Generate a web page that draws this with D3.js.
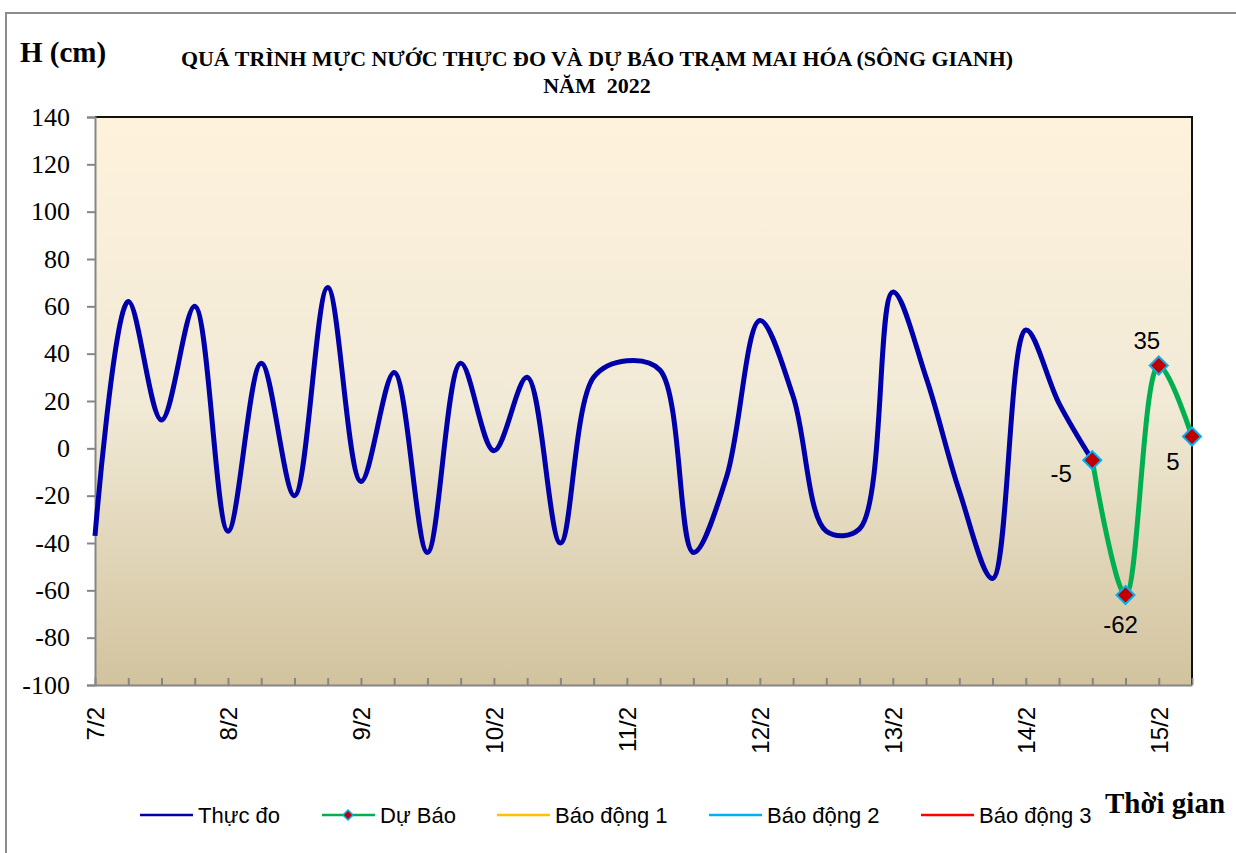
<!DOCTYPE html>
<html><head><meta charset="utf-8">
<script src="https://cdn.jsdelivr.net/npm/d3@7"></script>
<style>body{margin:0;background:#fff}svg{display:block}</style>
</head><body>
<svg id="chart" width="1236" height="853"></svg>
<script>
// ---- data ----
const categories = [
 "7/2 00h","7/2 06h","7/2 12h","7/2 18h",
 "8/2 00h","8/2 06h","8/2 12h","8/2 18h",
 "9/2 00h","9/2 06h","9/2 12h","9/2 18h",
 "10/2 00h","10/2 06h","10/2 12h","10/2 18h",
 "11/2 00h","11/2 06h","11/2 12h","11/2 18h",
 "12/2 00h","12/2 06h","12/2 12h","12/2 18h",
 "13/2 00h","13/2 06h","13/2 12h","13/2 18h",
 "14/2 00h","14/2 06h","14/2 12h","14/2 18h",
 "15/2 00h","15/2 06h"];
const tickLabels = ["7/2","8/2","9/2","10/2","11/2","12/2","13/2","14/2","15/2"];
const thucDo = [-37,62,12,60,-35,36,-20,68,-14,32,-44,36,-1,30,-40,30,37,33,-44,-12,54,22,-35,-34,66,30,-18,-55,50,19,-5];
const duBao = [-5,-62,35,5];          // starts at categories index 30
const duBaoStart = 30;
const yTicks = [-100,-80,-60,-40,-20,0,20,40,60,80,100,120,140];
const legendNames = ["Thực đo","Dự Báo","Báo động 1","Báo động 2","Báo động 3"];
const legendColors = ["#0000AA","#00B050","#FFC000","#00B0F0","#FF0000"];

// ---- layout ----
const svg = d3.select("#chart");
const L = 95, R = 1192, T = 117, B = 685;

const x = d3.scalePoint().domain(categories).range([L, R]).padding(0);
const y = d3.scaleLinear().domain([-100, 140]).range([B, T]);

// outer border
svg.append("rect").attr("x",6).attr("y",13).attr("width",1300).attr("height",900)
  .attr("fill","#fff").attr("stroke","#8c8c8c").attr("stroke-width",2);

// gradient background
const defs = svg.append("defs");
const g = defs.append("linearGradient").attr("id","bg").attr("x1",0).attr("y1",0).attr("x2",0).attr("y2",1);
g.append("stop").attr("offset","0%").attr("stop-color","#FEF2DC");
g.append("stop").attr("offset","50%").attr("stop-color","#F1EAD6");
g.append("stop").attr("offset","100%").attr("stop-color","#D2C39E");
svg.append("rect").attr("x",L).attr("y",T).attr("width",R-L).attr("height",B-T).attr("fill","url(#bg)");

// top/right border
svg.append("path").attr("d",`M${L},${T}H${R}V${B}`).attr("fill","none").attr("stroke","#111").attr("stroke-width",2);

// y axis
const yAxis = svg.append("g").attr("transform",`translate(${L},0)`)
  .call(d3.axisLeft(y).tickValues(yTicks).tickSize(8).tickPadding(17).tickFormat(d=>String(d)));
yAxis.select(".domain").attr("stroke","#868686").attr("stroke-width",2);
yAxis.selectAll(".tick line").attr("stroke","#868686").attr("stroke-width",2);
yAxis.selectAll(".tick text").attr("font-family","'Liberation Serif','Times New Roman',serif")
  .attr("font-size",26).attr("fill","#000");

// x axis
const xAxis = svg.append("g").attr("transform",`translate(0,${B})`)
  .call(d3.axisBottom(x).tickSize(-7).tickSizeOuter(0)
    .tickFormat((d,i)=> i%4===0 ? tickLabels[i/4] : ""));
xAxis.select(".domain").attr("stroke","#868686").attr("stroke-width",2);
xAxis.selectAll(".tick line").attr("stroke","#868686").attr("stroke-width",2);
xAxis.selectAll(".tick text")
  .attr("font-family","'Liberation Sans',Arial,sans-serif").attr("font-size",24).attr("fill","#000")
  .attr("transform","rotate(-90)").attr("text-anchor","end")
  .attr("x",-22).attr("y",0).attr("dy","0.36em");

// lines
const line = d3.line().x(d=>x(d.c)).y(d=>y(d.v)).curve(d3.curveCatmullRom.alpha(0.5));
const actual = thucDo.map((v,i)=>({c:categories[i],v}));
const fc = duBao.map((v,i)=>({c:categories[duBaoStart+i],v}));

svg.append("path").datum(actual).attr("d",line).attr("fill","none")
  .attr("stroke",legendColors[0]).attr("stroke-width",5).attr("stroke-linejoin","round");
svg.append("path").datum(fc).attr("d",line).attr("fill","none")
  .attr("stroke",legendColors[1]).attr("stroke-width",5).attr("stroke-linejoin","round");

const diamond = s => `M0,${-s}L${s},0L0,${s}L${-s},0Z`;
svg.selectAll(".mk").data(fc).join("path")
  .attr("transform",d=>`translate(${x(d.c)},${y(d.v)})`)
  .attr("d",diamond(9)).attr("fill","#C00000").attr("stroke","#00B0F0").attr("stroke-width",2);

// data labels
const lblOff = [[-31,13],[-5,30],[-12,-25],[-19,25]];
svg.selectAll(".dl").data(fc).join("text")
  .attr("x",(d,i)=>x(d.c)+lblOff[i][0]).attr("y",(d,i)=>y(d.v)+lblOff[i][1])
  .attr("text-anchor","middle").attr("dy","0.35em")
  .attr("font-family","'Liberation Sans',Arial,sans-serif").attr("font-size",24)
  .text(d=>d.v);

// titles
const serif = "'Liberation Serif','Times New Roman',serif";
svg.append("text").attr("x",597).attr("y",66).attr("text-anchor","middle")
  .attr("font-family",serif).attr("font-weight","bold").attr("font-size",22)
  .attr("textLength",832).attr("lengthAdjust","spacingAndGlyphs")
  .text("QUÁ TRÌNH MỰC NƯỚC THỰC ĐO VÀ DỰ BÁO TRẠM MAI HÓA (SÔNG GIANH)");
svg.append("text").attr("x",597).attr("y",93).attr("text-anchor","middle")
  .attr("font-family",serif).attr("font-weight","bold").attr("font-size",22)
  .attr("xml:space","preserve").style("white-space","pre")
  .text("NĂM  2022");
svg.append("text").attr("x",20).attr("y",62)
  .attr("font-family",serif).attr("font-weight","bold").attr("font-size",29).text("H (cm)");
svg.append("text").attr("x",1105).attr("y",813)
  .attr("font-family",serif).attr("font-weight","bold").attr("font-size",29).text("Thời gian");

// legend
const legX = [140,322,497,709,921];
const ly = 815;
legendNames.forEach((n,i)=>{
  svg.append("line").attr("x1",legX[i]).attr("x2",legX[i]+53).attr("y1",ly).attr("y2",ly)
    .attr("stroke",legendColors[i]).attr("stroke-width",2.5);
  if(i===1){
    svg.append("path").attr("transform",`translate(${legX[i]+26},${ly})`).attr("d",diamond(5))
      .attr("fill","#C00000").attr("stroke","#00B0F0").attr("stroke-width",1.5);
  }
  svg.append("text").attr("x",legX[i]+58).attr("y",ly).attr("dy","0.36em")
    .attr("font-family","'Liberation Sans',Arial,sans-serif").attr("font-size",22).text(n);
});
</script>
</body></html>
